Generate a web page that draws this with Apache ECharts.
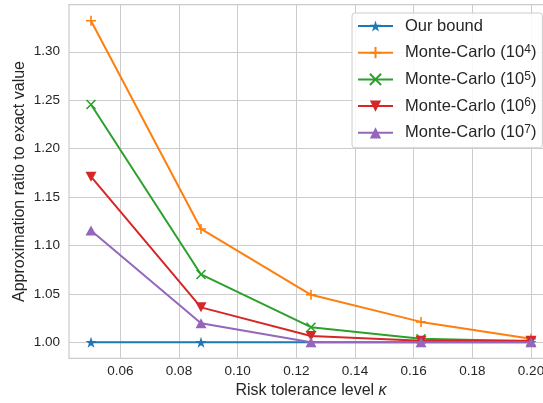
<!DOCTYPE html>
<html>
<head>
<meta charset="utf-8">
<script src="https://cdn.jsdelivr.net/npm/echarts@6/dist/echarts.min.js"></script>
<style>
html,body{margin:0;padding:0;background:#fff;}
#chart{width:543px;height:403px;}
</style>
</head>
<body>
<div id="chart"></div>
<script>
const kappa = [0.05, 0.0875, 0.125, 0.1625, 0.2];
const ourBound = [1.0, 1.0, 1.0, 1.0, 1.0];
const mc1e4 = [1.332, 1.117, 1.049, 1.021, 1.0035];
const mc1e5 = [1.2455, 1.070, 1.0155, 1.0035, 1.001];
const mc1e6 = [1.171, 1.036, 1.0065, 1.0015, 1.0015];
const mc1e7 = [1.1155, 1.0197, 1.0, 1.0, 1.0];
const xTicks = [0.06, 0.08, 0.10, 0.12, 0.14, 0.16, 0.18, 0.20];
const yTicks = [1.00, 1.05, 1.10, 1.15, 1.20, 1.25, 1.30];
const seriesNames = ['Our bound', 'Monte-Carlo (10^4)', 'Monte-Carlo (10^5)', 'Monte-Carlo (10^6)', 'Monte-Carlo (10^7)'];
const colors = ['#1f77b4', '#ff7f0e', '#2ca02c', '#d62728', '#9467bd'];

const STAR = 'path://M50,0 L61.8,35.3 L99,35.3 L69,57.2 L80.4,92.7 L50,70.8 L19.6,92.7 L31,57.2 L1,35.3 L38.2,35.3 Z';
const PLUS = 'path://M0,5L10,5M5,0L5,10';
const CROSS = 'path://M0,0L10,10M0,10L10,0';
const symbols = [STAR, PLUS, CROSS, 'path://M0,0L10,0L5,9Z', 'triangle'];
const sizes = [11, 10, 9, [11, 10], [11, 10]];
const allData = [ourBound, mc1e4, mc1e5, mc1e6, mc1e7];

const chart = echarts.init(document.getElementById('chart'), null, {renderer: 'canvas'});
const textColor = '#262626';
const series = allData.map((vals, i) => ({
  name: seriesNames[i],
  type: 'line',
  data: kappa.map((k, j) => [k, vals[j]]),
  symbol: symbols[i],
  symbolSize: sizes[i],
  showAllSymbol: true,
  z: 2 + i,
  lineStyle: {color: colors[i], width: 2},
  itemStyle: {
    color: colors[i],
    borderColor: colors[i],
    borderWidth: (i === 1 || i === 2) ? 1.6 : 0
  },
  emphasis: {disabled: true},
  animation: false
}));

chart.setOption({
  backgroundColor: '#ffffff',
  animation: false,
  grid: {
    left: 69, width: 484, top: 4.7, bottom: 44.7,
    outerBoundsMode: 'none', containLabel: false,
    show: true, backgroundColor: '#ffffff', borderColor: '#cccccc', borderWidth: 1.25
  },
  xAxis: {
    type: 'value', min: 0.0425, max: 0.2075,
    name: '{n|Risk tolerance level }{k|κ}', nameLocation: 'middle', nameGap: 24,
    nameMoveOverlap: false,
    nameTextStyle: {fontFamily: 'Liberation Sans', fontSize: 16, color: textColor,
      rich: {
        n: {fontFamily: 'Liberation Sans', fontSize: 16, color: textColor},
        k: {fontFamily: 'Liberation Sans', fontSize: 16, fontStyle: 'italic', color: textColor}
      }},
    axisLine: {show: false},
    axisTick: {show: false, customValues: xTicks},
    axisLabel: {customValues: xTicks, fontFamily: 'Liberation Sans', fontSize: 13.5, color: textColor, margin: 6,
      formatter: v => v.toFixed(2)},
    splitLine: {show: true, lineStyle: {color: '#cccccc', width: 1}}
  },
  yAxis: {
    type: 'value', min: 0.9834, max: 1.3486,
    name: 'Approximation ratio to exact value', nameLocation: 'middle', nameGap: 41,
    nameMoveOverlap: false,
    nameTextStyle: {fontFamily: 'Liberation Sans', fontSize: 16, color: textColor},
    axisLine: {show: false},
    axisTick: {show: false, customValues: yTicks},
    axisLabel: {customValues: yTicks, fontFamily: 'Liberation Sans', fontSize: 13.5, color: textColor, margin: 9,
      formatter: v => v.toFixed(2)},
    splitLine: {show: true, lineStyle: {color: '#cccccc', width: 1}}
  },
  legend: {
    orient: 'vertical', left: 352, top: 13,
    data: seriesNames,
    itemWidth: 35, itemHeight: 14, itemGap: 8.7,
    padding: [4, 6, 6, 5],
    backgroundColor: 'rgba(255,255,255,0.85)',
    borderColor: '#cccccc', borderWidth: 1, borderRadius: 3,
    selectedMode: false,
    formatter: function (name) {
      const m = name.match(/^(.*)\(10\^(\d)\)$/);
      if (m) return '{f|' + m[1] + '(10}{s|' + m[2] + '}{a|)}';
      return '{f|' + name + '}';
    },
    textStyle: {
      fontFamily: 'Liberation Sans', fontSize: 16.5, color: textColor, lineHeight: 18,
      rich: {
        f: {fontFamily: 'Liberation Sans', fontSize: 16.5, color: textColor, lineHeight: 18, padding: [0, 0, 0, 7]},
        a: {fontFamily: 'Liberation Sans', fontSize: 16.5, color: textColor, lineHeight: 18},
        s: {fontFamily: 'Liberation Sans', fontSize: 12, color: textColor, lineHeight: 10, verticalAlign: 'top'}
      }
    }
  },
  series: series
});
</script>
</body>
</html>
